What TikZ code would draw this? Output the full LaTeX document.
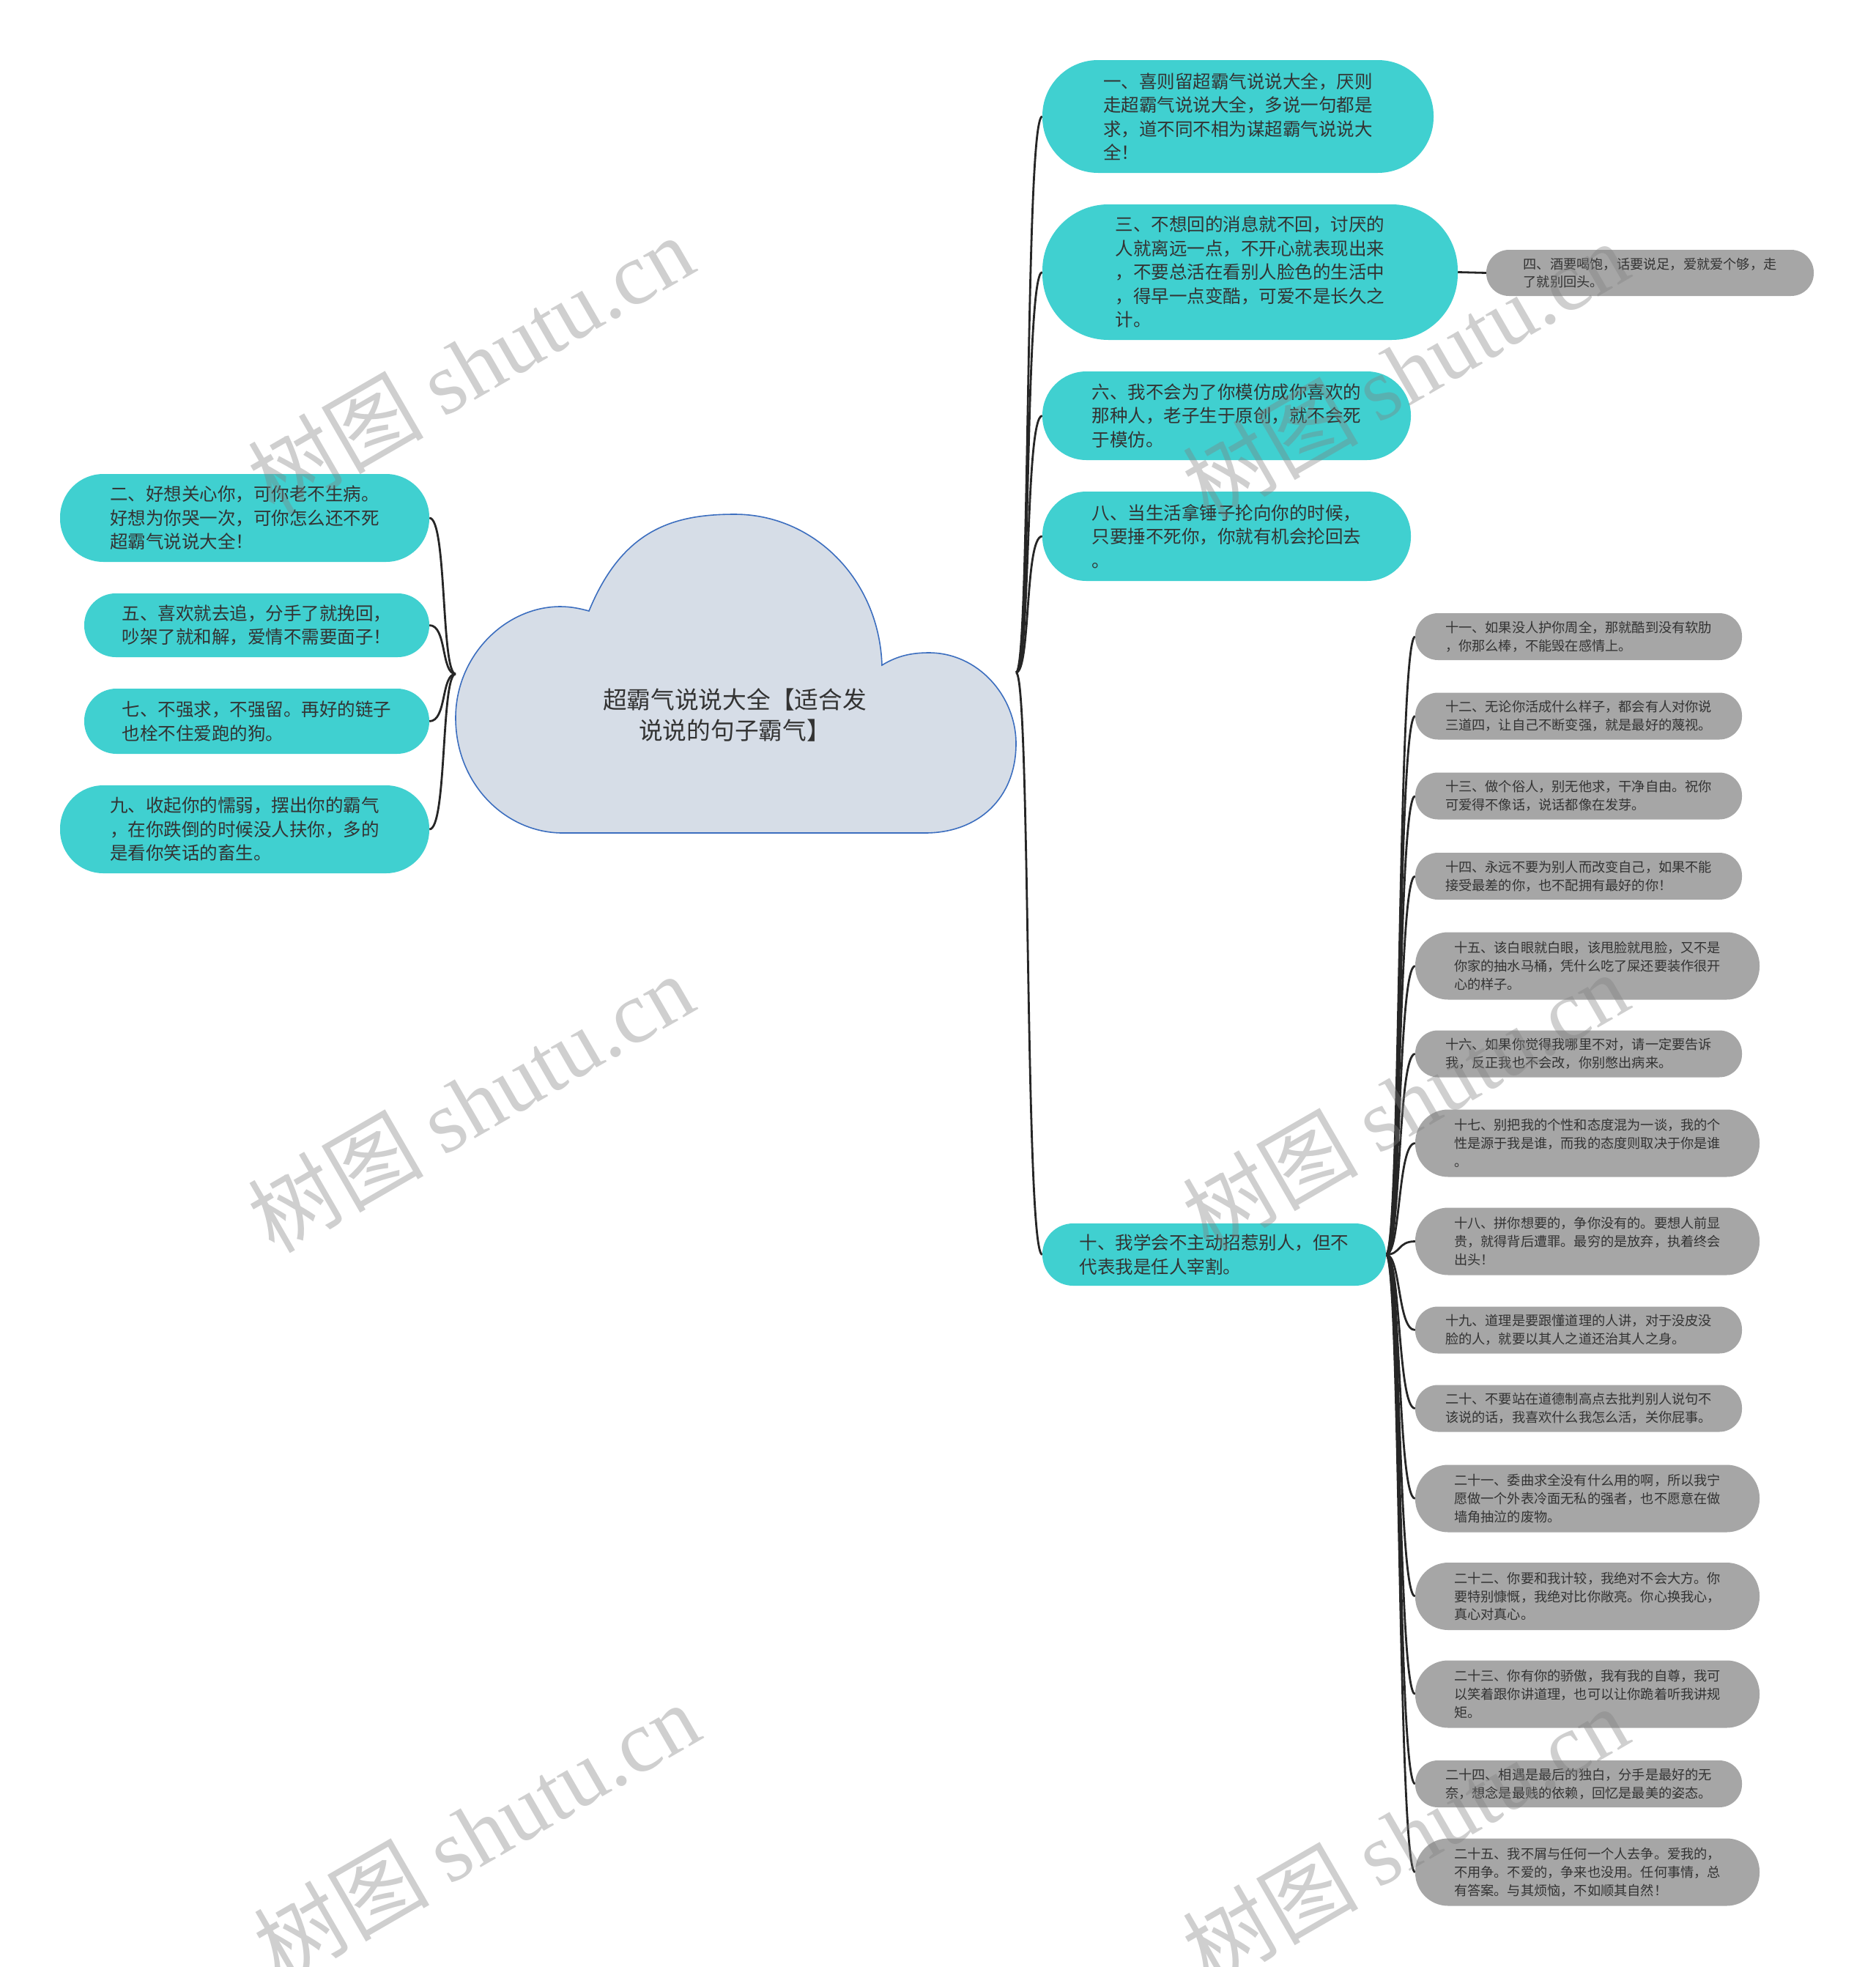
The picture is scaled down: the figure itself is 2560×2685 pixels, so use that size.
\documentclass[tikz,border=0pt]{standalone}
\usepackage{fontspec}
\setmainfont{Noto Sans CJK SC}
\newfontfamily\wmlat{Liberation Serif}
\usetikzlibrary{backgrounds}
\definecolor{tealc}{HTML}{40D0D0}
\definecolor{greyc}{HTML}{A6A6A6}
\definecolor{cloudf}{HTML}{D6DDE7}
\definecolor{cloudb}{HTML}{3C6EBF}
\definecolor{txt}{HTML}{333333}
\begin{document}
\begin{tikzpicture}[x=1pt,y=-1pt,
  tbox/.style={fill=tealc, draw=none, text=txt, align=left, inner sep=0pt, font=\fontsize{24.5}{32.5}\selectfont},
  gbox/.style={fill=greyc, draw=none, text=txt, align=left, inner sep=0pt, font=\fontsize{18.2}{24.8}\selectfont},
  link/.style={draw=black!85, line width=2.8pt},
  wm/.style={rotate=30, text=gray, text opacity=0.38, font=\fontsize{120}{120}\selectfont}
]
\useasboundingbox (0,0) rectangle (2560,2685);

% central cloud
\path[fill=cloudf, draw=cloudb, line width=1.6pt]
  (804,834) .. controls (850,722) and (920,702) .. (1003,702)
  .. controls (1110,702) and (1200,790) .. (1204,908)
  .. controls (1225,895) and (1245,891) .. (1268,891)
  .. controls (1335,891) and (1387,950) .. (1387,1015)
  .. controls (1387,1090) and (1335,1137) .. (1263,1137)
  -- (768,1137)
  .. controls (690,1137) and (622,1070) .. (622,980)
  .. controls (622,895) and (690,828) .. (765,828)
  .. controls (780,828) and (793,831) .. (804,834) -- cycle;
\node[text=txt, align=center, font=\fontsize{32.7}{42.8}\selectfont] (c) at (1003,976) {超霸气说说大全【适合发\\说说的句子霸气】};
\coordinate (cr) at (1387,918);
\coordinate (cl) at (622,920);

% right teal nodes
\node[tbox, minimum width=534, minimum height=154, rounded corners=76] (n1) at (1690,159) {一、喜则留超霸气说说大全，厌则\\走超霸气说说大全，多说一句都是\\求，道不同不相为谋超霸气说说大\\全！};
\node[tbox, minimum width=567, minimum height=185, rounded corners=90] (n3) at (1706.5,371.5) {三、不想回的消息就不回，讨厌的\\人就离远一点，不开心就表现出来\\，不要总活在看别人脸色的生活中\\，得早一点变酷，可爱不是长久之\\计。};
\node[tbox, minimum width=503, minimum height=121, rounded corners=60] (n6) at (1674.5,567.5) {六、我不会为了你模仿成你喜欢的\\那种人，老子生于原创，就不会死\\于模仿。};
\node[tbox, minimum width=503, minimum height=122, rounded corners=60] (n8) at (1674.5,732) {八、当生活拿锤子抡向你的时候，\\只要捶不死你，你就有机会抡回去\\。};
\node[tbox, minimum width=469, minimum height=85, rounded corners=42] (n10) at (1657.5,1712.5) {十、我学会不主动招惹别人，但不\\代表我是任人宰割。};

% left teal nodes
\node[tbox, minimum width=504, minimum height=120, rounded corners=59] (n2) at (334,707) {二、好想关心你，可你老不生病。\\好想为你哭一次，可你怎么还不死\\超霸气说说大全！};
\node[tbox, minimum width=471, minimum height=87, rounded corners=43] (n5) at (350.5,853.5) {五、喜欢就去追，分手了就挽回，\\吵架了就和解，爱情不需要面子！};
\node[tbox, minimum width=471, minimum height=89, rounded corners=44] (n7) at (350.5,984.5) {七、不强求，不强留。再好的链子\\也栓不住爱跑的狗。};
\node[tbox, minimum width=504, minimum height=120, rounded corners=59] (n9) at (334,1132) {九、收起你的懦弱，摆出你的霸气\\，在你跌倒的时候没人扶你，多的\\是看你笑话的畜生。};

% grey nodes
\node[gbox, minimum width=447, minimum height=63, rounded corners=31] (n4) at (2252.5,372.5) {四、酒要喝饱，话要说足，爱就爱个够，走\\了就别回头。};
\node[gbox, minimum width=446, minimum height=64, rounded corners=31] (n11) at (2155,869) {十一、如果没人护你周全，那就酷到没有软肋\\，你那么棒，不能毁在感情上。};
\node[gbox, minimum width=446, minimum height=64, rounded corners=31] (n12) at (2155,977.5) {十二、无论你活成什么样子，都会有人对你说\\三道四，让自己不断变强，就是最好的蔑视。};
\node[gbox, minimum width=446, minimum height=64, rounded corners=31] (n13) at (2155,1086.5) {十三、做个俗人，别无他求，干净自由。祝你\\可爱得不像话，说话都像在发芽。};
\node[gbox, minimum width=446, minimum height=64, rounded corners=31] (n14) at (2155,1196) {十四、永远不要为别人而改变自己，如果不能\\接受最差的你，也不配拥有最好的你！};
\node[gbox, minimum width=470, minimum height=92, rounded corners=45] (n15) at (2167,1318.5) {十五、该白眼就白眼，该甩脸就甩脸，又不是\\你家的抽水马桶，凭什么吃了屎还要装作很开\\心的样子。};
\node[gbox, minimum width=446, minimum height=64, rounded corners=31] (n16) at (2155,1438.5) {十六、如果你觉得我哪里不对，请一定要告诉\\我，反正我也不会改，你别憋出病来。};
\node[gbox, minimum width=470, minimum height=92, rounded corners=45] (n17) at (2167,1560.5) {十七、别把我的个性和态度混为一谈，我的个\\性是源于我是谁，而我的态度则取决于你是谁\\。};
\node[gbox, minimum width=470, minimum height=92, rounded corners=45] (n18) at (2167,1694.5) {十八、拼你想要的，争你没有的。要想人前显\\贵，就得背后遭罪。最穷的是放弃，执着终会\\出头！};
\node[gbox, minimum width=446, minimum height=64, rounded corners=31] (n19) at (2155,1815.5) {十九、道理是要跟懂道理的人讲，对于没皮没\\脸的人，就要以其人之道还治其人之身。};
\node[gbox, minimum width=446, minimum height=64, rounded corners=31] (n20) at (2155,1922.5) {二十、不要站在道德制高点去批判别人说句不\\该说的话，我喜欢什么我怎么活，关你屁事。};
\node[gbox, minimum width=470, minimum height=92, rounded corners=45] (n21) at (2167,2045.5) {二十一、委曲求全没有什么用的啊，所以我宁\\愿做一个外表冷面无私的强者，也不愿意在做\\墙角抽泣的废物。};
\node[gbox, minimum width=470, minimum height=92, rounded corners=45] (n22) at (2167,2179) {二十二、你要和我计较，我绝对不会大方。你\\要特别慷慨，我绝对比你敞亮。你心换我心，\\真心对真心。};
\node[gbox, minimum width=470, minimum height=92, rounded corners=45] (n23) at (2167,2312.5) {二十三、你有你的骄傲，我有我的自尊，我可\\以笑着跟你讲道理，也可以让你跪着听我讲规\\矩。};
\node[gbox, minimum width=446, minimum height=64, rounded corners=31] (n24) at (2155,2435) {二十四、相遇是最后的独白，分手是最好的无\\奈，想念是最贱的依赖，回忆是最美的姿态。};
\node[gbox, minimum width=470, minimum height=92, rounded corners=45] (n25) at (2167,2555.5) {二十五、我不屑与任何一个人去争。爱我的，\\不用争。不爱的，争来也没用。任何事情，总\\有答案。与其烦恼，不如顺其自然！};

% connectors
\begin{scope}[on background layer]
\foreach \n in {n1,n3,n6,n8,n10}
  \draw[link] (cr) .. controls +(20,0) and +(-24,0) .. (\n.west);
\foreach \n in {n2,n5,n7,n9}
  \draw[link] (cl) .. controls +(-20,0) and +(24,0) .. (\n.east);
\foreach \n in {n11,n12,n13,n14,n15,n16,n17,n18,n19,n20,n21,n22,n23,n24,n25}
  \draw[link] (n10.east) .. controls +(20,0) and +(-24,0) .. (\n.west);
\draw[link] (n3.east) -- (n4.west);
\end{scope}

% watermarks
\node[wm] (w1) at (642,497) {树图 {\wmlat shutu.cn}};
\node[wm] (w2) at (642,1505) {树图 {\wmlat shutu.cn}};
\node[wm] (w3) at (650,2500) {树图 {\wmlat shutu.cn}};
\node[wm] (w4) at (1918,505) {树图 {\wmlat shutu.cn}};
\node[wm] (w5) at (1918,1503) {树图 {\wmlat shutu.cn}};
\node[wm] (w6) at (1918,2505) {树图 {\wmlat shutu.cn}};
\end{tikzpicture}
\end{document}
